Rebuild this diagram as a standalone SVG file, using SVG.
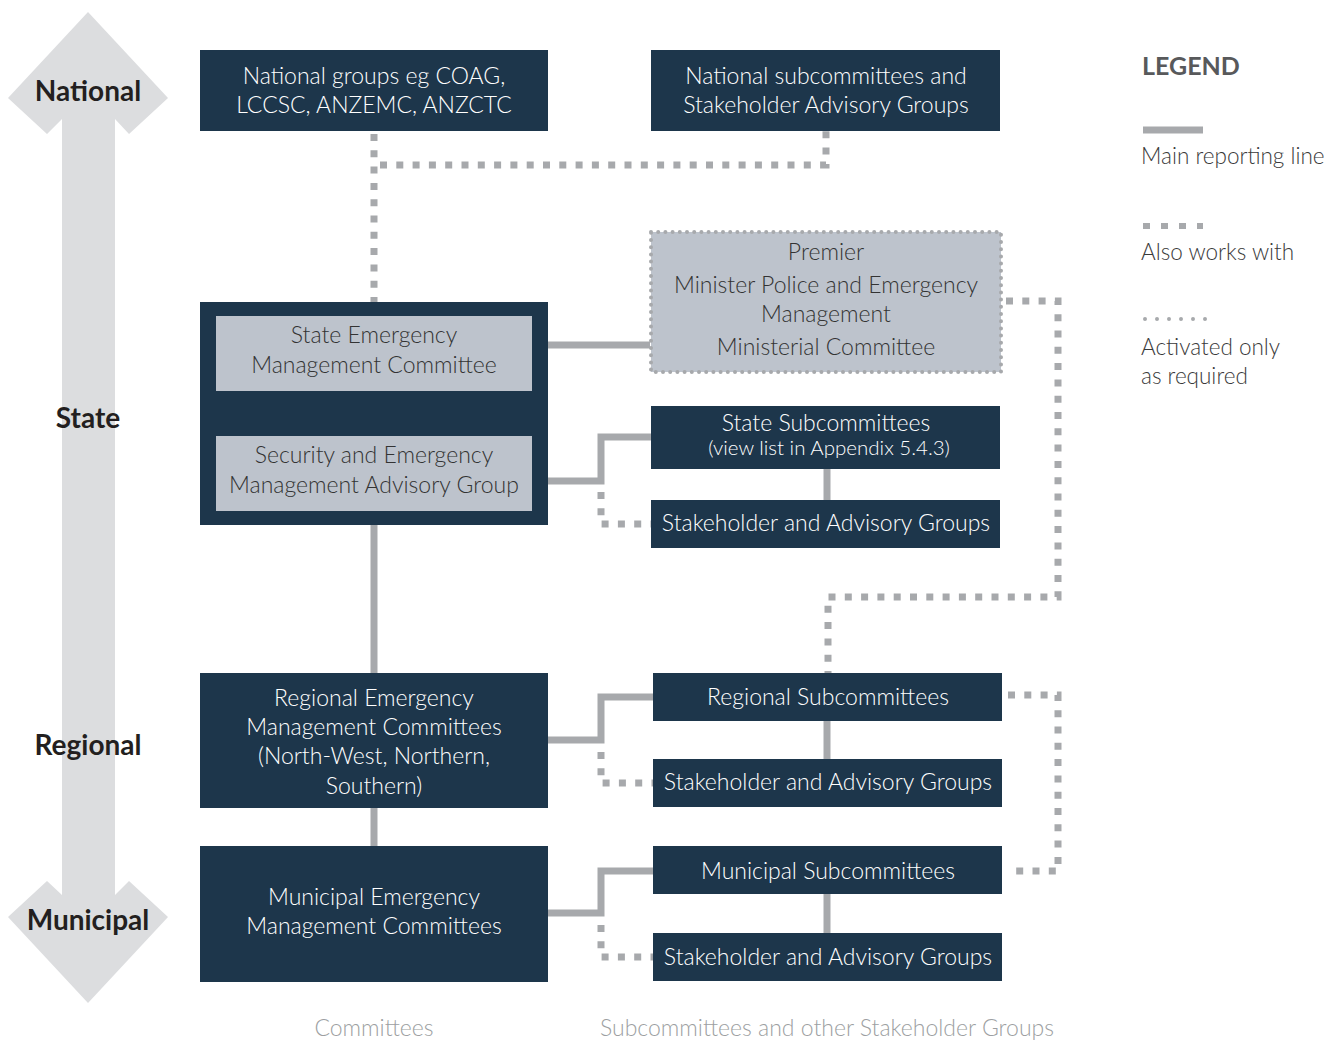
<svg xmlns="http://www.w3.org/2000/svg" width="1343" height="1041" viewBox="0 0 1343 1041">
<style>
.box{fill:#1d364b}
.inner{fill:#bdc3cc}
.t{font-family:Lato,"Open Sans","Liberation Sans",sans-serif;font-weight:300;font-size:23px;text-anchor:middle;fill:#ffffff}
.td{fill:#333333}
.lvl{font-family:Lato,"Liberation Sans",sans-serif;font-weight:700;font-size:28px;text-anchor:middle;fill:#231f20}
.solid{fill:none;stroke:#a7a9ac;stroke-width:7}
.sq{fill:none;stroke:#a7a9ac;stroke-width:7;stroke-dasharray:7 9.3}
.dot{fill:none;stroke:#a7a9ac;stroke-width:4;stroke-linecap:round;stroke-dasharray:0 7.2}
.leg{font-family:Lato,"Liberation Sans",sans-serif;font-weight:300;font-size:22.5px;fill:#3a3a3a}
.cap{font-family:Lato,"Liberation Sans",sans-serif;font-weight:300;font-size:23px;text-anchor:middle;fill:#9d9fa2}
</style>
<rect width="1343" height="1041" fill="#ffffff"/>
<g id="level-arrow">
<polygon points="88,12 168,98 129,134 115,119 115,895 129,881 168,917 88,1003 8,917 47,881 62,895 62,119 47,134 8,98" fill="#dcdddf"/>
<text class="lvl" x="88" y="101">National</text>
<text class="lvl" x="88" y="428">State</text>
<text class="lvl" x="88" y="755">Regional</text>
<text class="lvl" x="88" y="930">Municipal</text>
</g>
<g id="connectors">
<polyline class="sq" points="374,134 374,302"/>
<polyline class="sq" points="380,165 826,165 826,130"/>
<line class="solid" x1="374" y1="391" x2="374" y2="436"/>
<line class="solid" x1="548" y1="345" x2="650" y2="345"/>
<polyline class="solid" points="548,481 601,481 601,437 651,437"/>
<polyline class="sq" points="601,492 601,524 651,524"/>
<line class="solid" x1="827" y1="469" x2="827" y2="500"/>
<polyline class="sq" points="1006,301 1058,301 1058,597 828,597 828,673"/>
<line class="solid" x1="374" y1="525" x2="374" y2="673"/>
<polyline class="solid" points="548,740 601,740 601,697 653,697"/>
<polyline class="sq" points="601,752 601,783 653,783"/>
<line class="solid" x1="827" y1="721" x2="827" y2="759"/>
<polyline class="sq" points="1008,695 1058,695 1058,871 1008,871"/>
<line class="solid" x1="374" y1="808" x2="374" y2="846"/>
<polyline class="solid" points="548,913 601,913 601,871 653,871"/>
<polyline class="sq" points="601,925 601,957 653,957"/>
<line class="solid" x1="827" y1="894" x2="827" y2="933"/>
</g>
<g id="national-groups">
<rect class="box" x="200" y="50" width="348" height="81"/>
<text class="t" x="374" y="84">National groups eg COAG,</text>
<text class="t" x="374" y="113">LCCSC, ANZEMC, ANZCTC</text>
</g>
<g id="national-subcommittees">
<rect class="box" x="651" y="50" width="349" height="81"/>
<text class="t" x="826" y="84">National subcommittees and</text>
<text class="t" x="826" y="113">Stakeholder Advisory Groups</text>
</g>
<g id="state-box">
<rect class="box" x="200" y="302" width="348" height="223"/>
</g>
<g id="semc">
<rect class="inner" x="216" y="316" width="316" height="75"/>
<text class="t td" x="374" y="343">State Emergency</text>
<text class="t td" x="374" y="373">Management Committee</text>
</g>
<g id="semag">
<rect class="inner" x="216" y="436" width="316" height="75"/>
<text class="t td" x="374" y="463">Security and Emergency</text>
<text class="t td" x="374" y="493">Management Advisory Group</text>
</g>
<g id="premier">
<rect x="651" y="232" width="350" height="140" fill="#bdc3cc"/>
<rect class="dot" x="651" y="232" width="350" height="140"/>
<text class="t td" x="826" y="260">Premier</text>
<text class="t td" x="826" y="293">Minister Police and Emergency</text>
<text class="t td" x="826" y="322">Management</text>
<text class="t td" x="826" y="355">Ministerial Committee</text>
</g>
<g id="state-subcommittees">
<rect class="box" x="651" y="406" width="349" height="63"/>
<text class="t" x="826" y="431">State Subcommittees</text>
<text class="t" x="829" y="455" style="font-size:20.5px">(view list in Appendix 5.4.3)</text>
</g>
<g id="state-stakeholder">
<rect class="box" x="651" y="500" width="349" height="48"/>
<text class="t" x="826" y="531">Stakeholder and Advisory Groups</text>
</g>
<g id="regional-emc">
<rect class="box" x="200" y="673" width="348" height="135"/>
<text class="t" x="374" y="706">Regional Emergency</text>
<text class="t" x="374" y="735">Management Committees</text>
<text class="t" x="374" y="764">(North-West, Northern,</text>
<text class="t" x="374" y="794">Southern)</text>
</g>
<g id="regional-subcommittees">
<rect class="box" x="653" y="673" width="349" height="48"/>
<text class="t" x="828" y="705">Regional Subcommittees</text>
</g>
<g id="regional-stakeholder">
<rect class="box" x="653" y="759" width="349" height="48"/>
<text class="t" x="828" y="790">Stakeholder and Advisory Groups</text>
</g>
<g id="municipal-emc">
<rect class="box" x="200" y="846" width="348" height="136"/>
<text class="t" x="374" y="905">Municipal Emergency</text>
<text class="t" x="374" y="934">Management Committees</text>
</g>
<g id="municipal-subcommittees">
<rect class="box" x="653" y="846" width="349" height="48"/>
<text class="t" x="828" y="879">Municipal Subcommittees</text>
</g>
<g id="municipal-stakeholder">
<rect class="box" x="653" y="933" width="349" height="48"/>
<text class="t" x="828" y="965">Stakeholder and Advisory Groups</text>
</g>
<g id="legend">
<text x="1142" y="75" style="font-family:Lato,'Liberation Sans',sans-serif;font-weight:700;font-size:25px;fill:#58595b">LEGEND</text>
<line class="solid" x1="1143" y1="130" x2="1203" y2="130"/>
<text class="leg" x="1141" y="164">Main reporting line</text>
<line x1="1143" y1="226" x2="1203" y2="226" stroke="#a7a9ac" stroke-width="6" stroke-dasharray="7 11"/>
<text class="leg" x="1141" y="260">Also works with</text>
<line class="dot" x1="1145" y1="319" x2="1206" y2="319" style="stroke-dasharray:0 12"/>
<text class="leg" x="1141" y="355">Activated only</text>
<text class="leg" x="1141" y="384">as required</text>
</g>
<g id="captions">
<text class="cap" x="374" y="1036">Committees</text>
<text class="cap" x="827" y="1036">Subcommittees and other Stakeholder Groups</text>
</g>
</svg>
